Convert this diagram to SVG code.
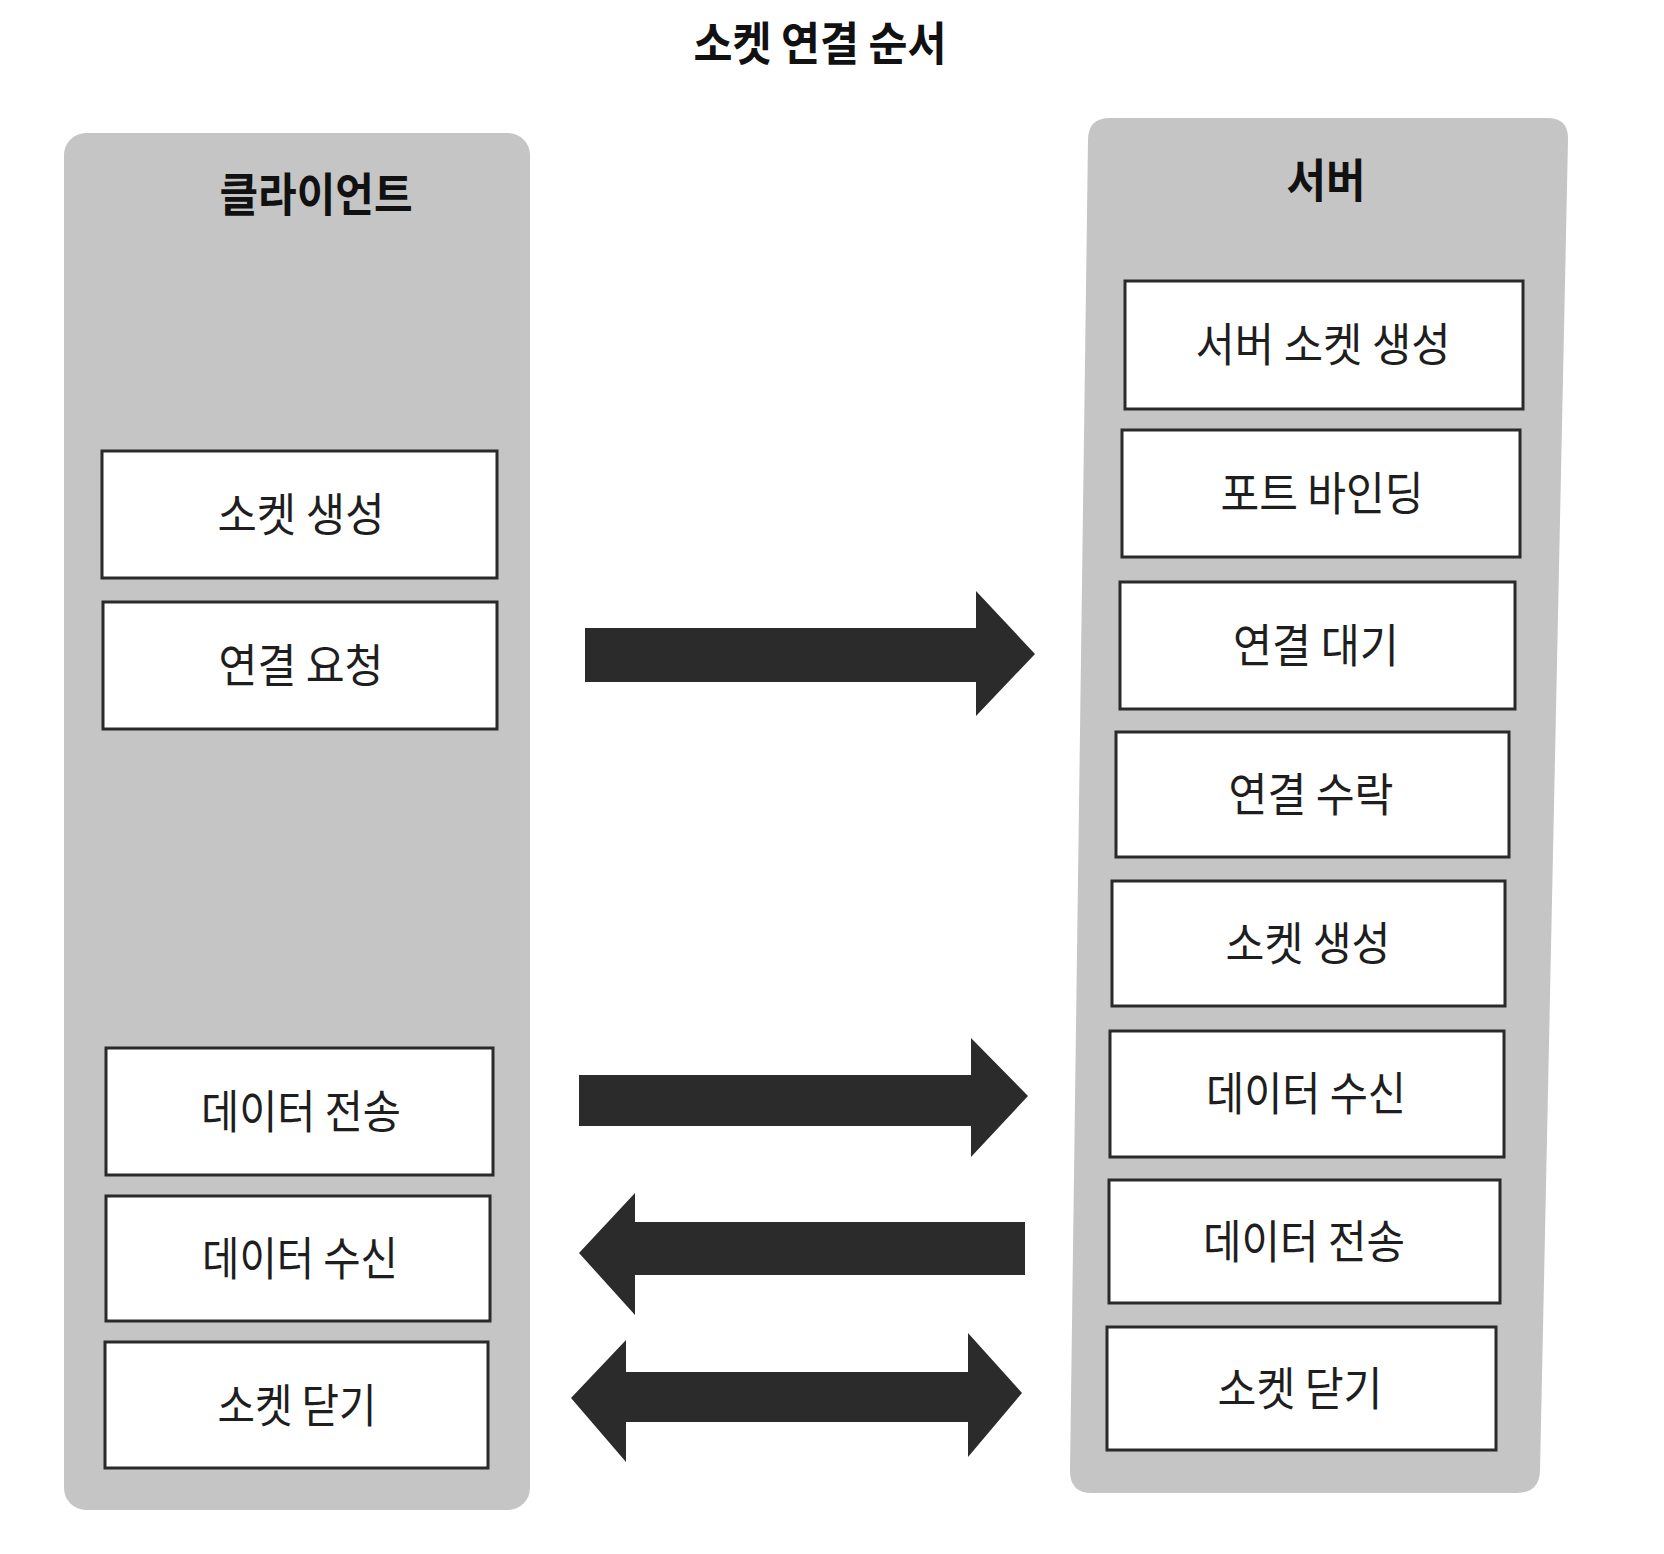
<svg xmlns="http://www.w3.org/2000/svg" width="1664" height="1554" viewBox="0 0 1664 1554">
<defs>
<style>
.panel{fill:#c5c5c5;}
.box{fill:#ffffff;stroke:#2a2a2a;stroke-width:3;}
.lbl{font-family:"Noto Sans CJK KR","Noto Sans",sans-serif;font-size:46px;fill:#1e1e1e;text-anchor:middle;}
.hdr{font-family:"Noto Sans CJK KR","Noto Sans",sans-serif;font-size:46px;font-weight:bold;fill:#111;text-anchor:middle;}
.arrow{fill:#2b2b2b;}
</style>
</defs>
<rect width="1664" height="1554" fill="#ffffff"/>
<text class="hdr" x="820" y="60" textLength="253" lengthAdjust="spacingAndGlyphs">소켓 연결 순서</text>

<g id="client-panel">
<rect class="panel" x="64" y="133" width="466" height="1377" rx="22"/>
<text class="hdr" x="316" y="211" textLength="193" lengthAdjust="spacingAndGlyphs">클라이언트</text>
</g>
<g id="server-panel">
<path class="panel" d="M1110 118 L1547 118 Q1569 118 1568 140 L1540 1471 Q1539 1493 1517 1493 L1092 1493 Q1070 1493 1070 1471 L1088 140 Q1088 118 1110 118 Z"/>
<text class="hdr" x="1326" y="197" textLength="79" lengthAdjust="spacingAndGlyphs">서버</text>
</g>

<g id="c1"><rect class="box" x="102" y="451" width="395" height="127"/><text class="lbl" x="301" y="531" textLength="167" lengthAdjust="spacingAndGlyphs">소켓 생성</text></g>
<g id="c2"><rect class="box" x="103" y="602" width="394" height="127"/><text class="lbl" x="301" y="682" textLength="165" lengthAdjust="spacingAndGlyphs">연결 요청</text></g>
<g id="c3"><rect class="box" x="106" y="1048" width="387" height="127"/><text class="lbl" x="301" y="1128" textLength="200" lengthAdjust="spacingAndGlyphs">데이터 전송</text></g>
<g id="c4"><rect class="box" x="106" y="1196" width="384" height="125"/><text class="lbl" x="300" y="1275" textLength="196" lengthAdjust="spacingAndGlyphs">데이터 수신</text></g>
<g id="c5"><rect class="box" x="105" y="1342" width="383" height="126"/><text class="lbl" x="297" y="1422" textLength="159" lengthAdjust="spacingAndGlyphs">소켓 닫기</text></g>

<g id="s1"><rect class="box" x="1125" y="281" width="398" height="128"/><text class="lbl" x="1323" y="361" textLength="255" lengthAdjust="spacingAndGlyphs">서버 소켓 생성</text></g>
<g id="s2"><rect class="box" x="1122" y="430" width="398" height="127"/><text class="lbl" x="1322" y="510" textLength="203" lengthAdjust="spacingAndGlyphs">포트 바인딩</text></g>
<g id="s3"><rect class="box" x="1120" y="582" width="395" height="127"/><text class="lbl" x="1316" y="662" textLength="166" lengthAdjust="spacingAndGlyphs">연결 대기</text></g>
<g id="s4"><rect class="box" x="1116" y="732" width="393" height="125"/><text class="lbl" x="1311" y="811" textLength="165" lengthAdjust="spacingAndGlyphs">연결 수락</text></g>
<g id="s5"><rect class="box" x="1112" y="881" width="393" height="125"/><text class="lbl" x="1308" y="960" textLength="165" lengthAdjust="spacingAndGlyphs">소켓 생성</text></g>
<g id="s6"><rect class="box" x="1110" y="1031" width="394" height="126"/><text class="lbl" x="1306" y="1110" textLength="200" lengthAdjust="spacingAndGlyphs">데이터 수신</text></g>
<g id="s7"><rect class="box" x="1109" y="1180" width="391" height="123"/><text class="lbl" x="1304" y="1258" textLength="202" lengthAdjust="spacingAndGlyphs">데이터 전송</text></g>
<g id="s8"><rect class="box" x="1107" y="1327" width="389" height="123"/><text class="lbl" x="1300" y="1405" textLength="165" lengthAdjust="spacingAndGlyphs">소켓 닫기</text></g>

<g id="connectors">
<polygon class="arrow" points="585,628 976,628 976,591 1035,654 976,716 976,682 585,682"/>
<polygon class="arrow" points="579,1075 971,1075 971,1038 1028,1096 971,1157 971,1126 579,1126"/>
<polygon class="arrow" points="1025,1222 635,1222 635,1193 579,1253 635,1315 635,1275 1025,1275"/>
<polygon class="arrow" points="626,1372 968,1372 968,1333 1022,1393 968,1457 968,1422 626,1422 626,1462 571,1398 626,1340"/>
</g>
</svg>
